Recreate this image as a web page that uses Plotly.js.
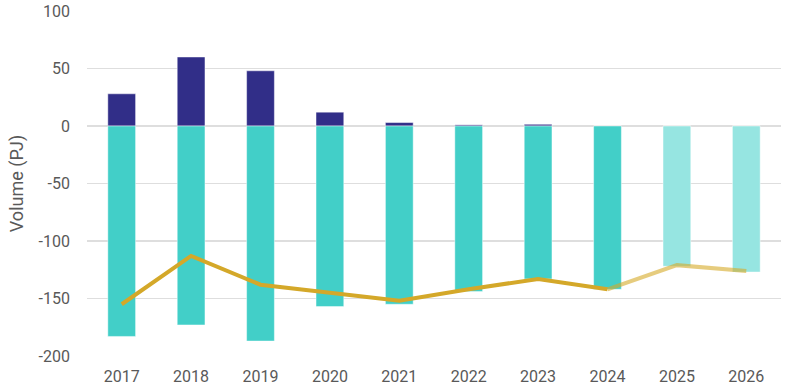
<!DOCTYPE html>
<html>
<head>
<meta charset="utf-8">
<script src="https://cdn.plot.ly/plotly-3.0.1.min.js"></script>
<style>html,body{margin:0;padding:0;background:#fff;}#chart{width:804px;height:392px;}</style>
</head>
<body>
<div id="chart"></div>
<script>
const years = ['2017','2018','2019','2020','2021','2022','2023','2024','2025','2026'];
const positiveVolume = [28, 60, 48, 12, 3, 1, 1.5, 0, 0, 0];
const negativeVolume = [-183, -173, -187, -157, -155, -144, -133, -142, -122, -127];
const netVolume = [-155, -113, -138, -145, -152, -142, -133, -142, -121, -126];
const isForecast = [false, false, false, false, false, false, false, false, true, true];
const yTickValues = [100, 50, 0, -50, -100, -150, -200];
const yTickLabels = ['100', '50', '0', '-50', '-100', '-150', '-200'];

const histYears = years.filter((y, i) => !isForecast[i]);
const histNet = netVolume.filter((v, i) => !isForecast[i]);
const lastHist = histYears.length - 1;
const fcYears = [histYears[lastHist]].concat(years.filter((y, i) => isForecast[i]));
const fcNet = [histNet[lastHist]].concat(netVolume.filter((v, i) => isForecast[i]));

const traces = [
  {
    type: 'bar', x: years, y: positiveVolume,
    marker: {color: '#312e88', line: {color: 'rgba(255,255,255,0.45)', width: 1}},
    width: 0.4, hoverinfo: 'skip'
  },
  {
    type: 'bar', x: years, y: negativeVolume,
    marker: {color: isForecast.map(f => f ? '#96e5e1' : '#42cfc8'), line: {color: 'rgba(255,255,255,0.45)', width: 1}},
    width: 0.4, hoverinfo: 'skip'
  },
  {
    type: 'scatter', mode: 'lines', x: fcYears, y: fcNet,
    line: {color: 'rgba(214,170,40,0.6)', width: 4}, hoverinfo: 'skip'
  },
  {
    type: 'scatter', mode: 'lines', x: histYears, y: histNet,
    line: {color: '#d4a829', width: 4}, hoverinfo: 'skip'
  }
];

const layout = {
  width: 804, height: 392,
  margin: {l: 87, r: 23, t: 11, b: 36, pad: 0},
  barmode: 'relative',
  showlegend: false,
  paper_bgcolor: '#fff', plot_bgcolor: '#fff',
  font: {family: 'Roboto, "Noto Sans", sans-serif', size: 16, color: '#595959'},
  xaxis: {
    type: 'category', range: [-0.5, 9.5],
    showgrid: false, zeroline: false, showline: false,
    ticks: '', ticklabelstandoff: 9,
    tickfont: {size: 16, color: '#595959'}
  },
  yaxis: {
    range: [-200, 100], tickmode: 'array', tickvals: yTickValues, ticktext: yTickLabels,
    showgrid: true, gridcolor: '#dedede', gridwidth: 1.5,
    zeroline: true, zerolinecolor: '#dedede', zerolinewidth: 1.5,
    showline: false, ticks: '', ticklabelstandoff: 16,
    tickfont: {size: 16, color: '#595959'},
    title: {text: 'Volume (PJ)', font: {size: 18, color: '#595959'}, standoff: 10}
  }
};

Plotly.newPlot('chart', traces, layout, {displayModeBar: false, staticPlot: true});
</script>
</body>
</html>
